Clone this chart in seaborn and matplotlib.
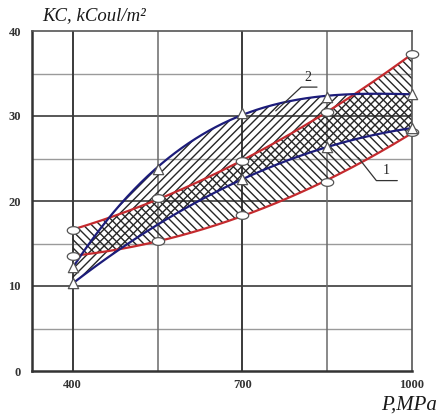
import numpy as np
import pandas as pd
import matplotlib
matplotlib.use("Agg")
import matplotlib.pyplot as plt
import seaborn as sns

# Pressure levels (MPa) and impact strength KC (kCoul/m^2)
pressure = [400, 550, 700, 850, 1000]
band1_upper = [16.6, 20.3, 24.7, 30.5, 37.3]   # red, circles
band1_lower = [13.5, 15.3, 18.4, 22.2, 28.1]   # red, circles
band2_upper = [12.2, 23.8, 30.4, 32.2, 32.6]   # blue, triangles
band2_lower_p = [400, 700, 850, 1000]
band2_lower = [10.3, 22.6, 26.3, 28.6]          # blue, triangles

x_ticks = [400, 700, 1000]
y_ticks = [0, 10, 20, 30, 40]

sns.set_theme(style="white")
plt.rcParams["font.family"] = ["Liberation Serif", "DejaVu Serif"]
plt.rcParams["hatch.linewidth"] = 1.0

fig = plt.figure(figsize=(4.37, 4.16), dpi=100)
ax = fig.add_axes([32 / 437, 1 - 371 / 416, 380 / 437, 340 / 416])

RED = "#c42a2e"
BLUE = "#1c1c7a"
HATCH = "#262626"

grid = np.linspace(400, 1000, 200)


def smooth(px, py, order):
    coef = np.polyfit(px, py, order)
    return np.polyval(coef, grid)


r_up = smooth(pressure, band1_upper, 2)
r_lo = smooth(pressure, band1_lower, 2)
b_up = smooth(pressure, band2_upper, 3)
b_lo = smooth(band2_lower_p, band2_lower, 2)

# grid lines
for v in [5, 15, 25, 35]:
    ax.axhline(v, color="#9a9a9a", lw=1.0, zorder=0)
for v in [10, 20, 30]:
    ax.axhline(v, color="#4a4a4a", lw=1.3, zorder=0)
for v in [550, 850]:
    ax.axvline(v, color="#6a6a6a", lw=1.1, zorder=0)
for v in [400, 700]:
    ax.axvline(v, color="#3a3a3a", lw=1.4, zorder=0)

# hatched bands
ax.fill_between(grid, r_lo, r_up, facecolor="none", edgecolor=HATCH,
                hatch="\\\\\\\\", linewidth=0, zorder=1)
ax.fill_between(grid, b_lo, b_up, facecolor="none", edgecolor=HATCH,
                hatch="////", linewidth=0, zorder=1)

curves = pd.DataFrame({"P": grid, "r_up": r_up, "r_lo": r_lo,
                       "b_up": b_up, "b_lo": b_lo})
for col, c in [("r_up", RED), ("r_lo", RED), ("b_up", BLUE), ("b_lo", BLUE)]:
    sns.lineplot(data=curves, x="P", y=col, color=c, lw=1.6, ax=ax, zorder=2)

# white elliptic markers for band 1, triangles for band 2
t = np.linspace(0, 2 * np.pi, 40)
ellipse = np.column_stack([np.cos(t), 0.62 * np.sin(t)])
for vals in (band1_upper, band1_lower):
    sns.scatterplot(x=pressure, y=vals, marker=ellipse, s=80, color="white",
                    edgecolor="#555555", linewidth=0.9, ax=ax, zorder=4,
                    clip_on=False)
sns.scatterplot(x=pressure, y=band2_upper, marker="^", s=55, color="white",
                edgecolor="#555555", linewidth=0.9, ax=ax, zorder=4,
                clip_on=False)
sns.scatterplot(x=band2_lower_p, y=band2_lower, marker="^", s=55, color="white",
                edgecolor="#555555", linewidth=0.9, ax=ax, zorder=4,
                clip_on=False)

# curve labels with leader lines
ax.plot([759, 804, 832], [30.6, 33.4, 33.4], color="#333333", lw=0.9, zorder=5)
ax.text(815, 33.8, "2", ha="center", va="bottom", fontsize=10, color="#222222")
ax.plot([905, 937, 974], [25.1, 22.4, 22.4], color="#333333", lw=0.9, zorder=5)
ax.text(955, 22.8, "1", ha="center", va="bottom", fontsize=10, color="#222222")

ax.set_xlim(328, 1000)
ax.set_ylim(0, 40)
ax.set_xticks(x_ticks)
ax.set_yticks(y_ticks)
ax.set_xticklabels([str(v) for v in x_ticks])
ax.set_yticklabels([str(v) for v in y_ticks])
ax.tick_params(axis="both", length=0, labelsize=9, labelcolor="#333333")
ax.tick_params(axis="x", pad=6)
ax.tick_params(axis="y", pad=8)
for lab in ax.get_xticklabels() + ax.get_yticklabels():
    lab.set_fontweight("bold")

ax.set_xlabel("")
ax.set_ylabel("")
for side in ["left", "bottom"]:
    ax.spines[side].set_color("#333333")
    ax.spines[side].set_linewidth(1.8)
for side in ["top", "right"]:
    ax.spines[side].set_color("#555555")
    ax.spines[side].set_linewidth(1.2)

fig.text(42 / 437, 1 - 20 / 416, "KC, kCoul/m²", fontsize=13.5,
         style="italic", ha="left", va="baseline", color="#1a1a1a")
fig.text(437 / 437, 1 - 410 / 416, "P,MPa", fontsize=15,
         style="italic", ha="right", va="baseline", color="#1a1a1a")

fig.savefig("out.png", dpi=100)
